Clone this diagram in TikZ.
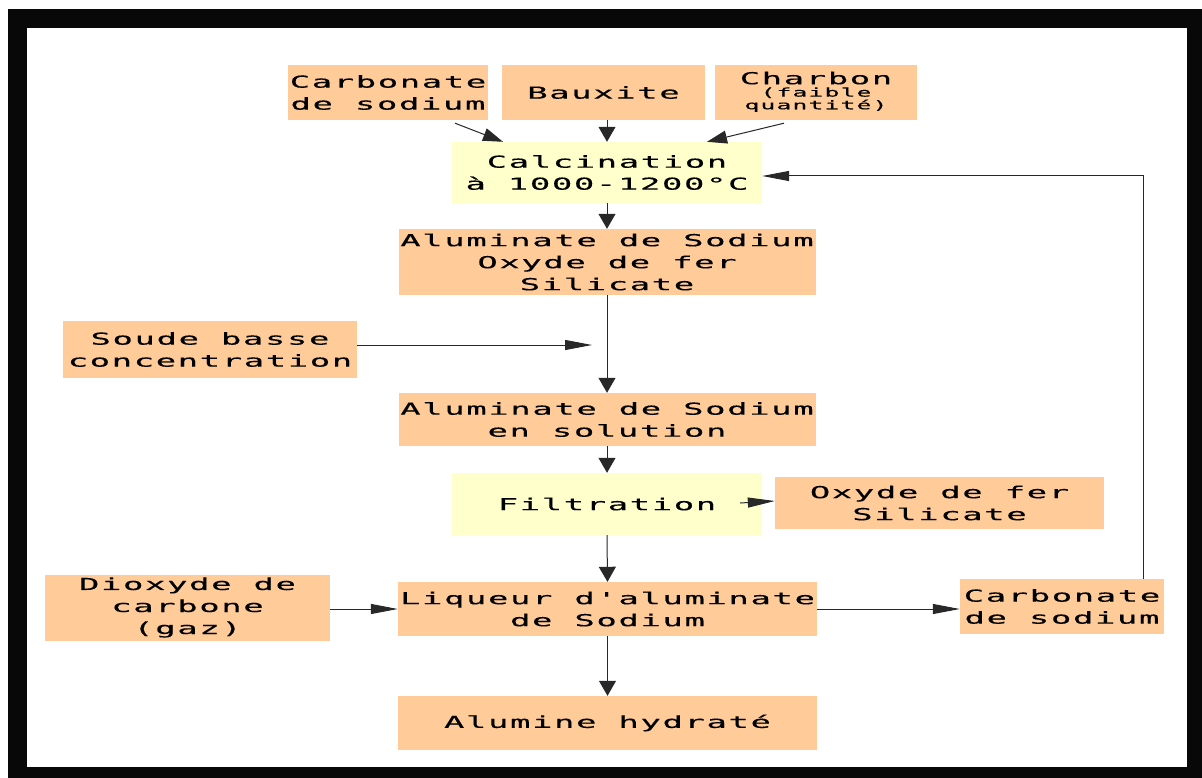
\documentclass[tikz,border=0pt]{standalone}
\usepackage{fontspec}
\usetikzlibrary{arrows.meta,calc}
\newfontfamily\boxfont[FakeStretch=2.05,FakeBold=0.3,LetterSpace=10]{DejaVu Sans Mono}
\definecolor{peach}{RGB}{255,204,153}
\definecolor{paleyellow}{RGB}{255,255,204}
\definecolor{linegray}{RGB}{40,40,40}
\newcommand{\smallnote}[1]{{\fontsize{12}{13.5}\selectfont
  \begin{tabular}{@{}c@{}}#1\end{tabular}}}
\tikzset{
  box/.style={fill=peach, inner sep=0pt, align=center,
    font=\boxfont\fontsize{16.5}{22}\selectfont},
  stage/.style={box, fill=paleyellow},
  arrv/.style={draw=linegray, line width=1pt, -{Triangle[length=15pt,width=17pt]}},
  arrh/.style={draw=linegray, line width=1pt, -{Triangle[length=27pt,width=10pt]}},
  arrd/.style={draw=linegray, line width=1pt, -{Triangle[length=20pt,width=13pt]}},
}
\begin{document}
\begin{tikzpicture}[x=1pt,y=-1pt]
  \useasboundingbox (0,0) rectangle (1202,778);
  % frame
  \fill[white] (0,0) rectangle (1202,778);
  \fill[black!97] (8,9) rectangle (1202,778);
  \fill[white] (27,28) rectangle (1187,767);

  % inputs
  \node[box, minimum width=200pt, minimum height=55pt] (carbA) at (388,92.5) {Carbonate\\de sodium};
  \node[box, minimum width=203pt, minimum height=55pt] (baux) at (603.5,92.5) {Bauxite};
  \node[box, minimum width=202pt, minimum height=55pt] (charb) at (816,92.5)
    {Charbon\\[-3pt]\smallnote{(faible\\[-1pt]quantité)}};

  % main chain
  \node[stage, minimum width=310pt, minimum height=61pt] (calc) at (607,172.5) {Calcination\\à 1000-1200°C};
  \node[box, minimum width=417pt, minimum height=66pt] (alu1) at (607,262) {Aluminate de Sodium\\Oxyde de fer\\Silicate};
  \node[box, minimum width=294pt, minimum height=57pt] (soude) at (210,349.5) {Soude basse\\concentration};
  \node[box, minimum width=417pt, minimum height=53pt] (alu2) at (607,419.5) {Aluminate de Sodium\\en solution};
  \node[stage, minimum width=310pt, minimum height=62pt] (filt) at (607,504) {Filtration};
  \node[box, minimum width=329pt, minimum height=52pt] (oxy) at (939.5,503) {Oxyde de fer\\Silicate};
  \node[box, minimum width=285pt, minimum height=66pt] (diox) at (187.5,607.5) {Dioxyde de\\carbone\\(gaz)};
  \node[box, minimum width=419pt, minimum height=54pt] (liq) at (607.5,609) {Liqueur d'aluminate\\de Sodium};
  \node[box, minimum width=204pt, minimum height=55pt] (carbB) at (1062,606.5) {Carbonate\\de sodium};
  \node[box, minimum width=419pt, minimum height=54pt] (alum) at (607.5,723) {Alumine hydraté};

  \coordinate (soudeEnd) at (592,345);

  % connectors
  \draw[arrd] ([xshift=67pt,yshift=-3pt]carbA.south) -- ([xshift=-104pt]calc.north);
  \draw[arrv] (calc.north |- baux.south) -- (calc.north);
  \draw[arrd] ([xshift=-32pt,yshift=-3pt]charb.south) -- ([xshift=100pt]calc.north);
  \draw[arrv] (calc.south) -- (alu1.north);
  \draw[arrv] (alu1.south) -- (alu2.north);
  \draw[arrh] (soude.east |- soudeEnd) -- (soudeEnd);
  \draw[arrv] (alu2.south) -- (filt.north);
  \draw[arrh] ([xshift=-22pt,yshift=1pt]filt.east) -- ([yshift=2pt]oxy.west);
  \draw[arrv] (filt.south) -- (liq.north);
  \draw[arrh] (diox.east |- liq.west) -- (liq.west);
  \draw[arrh] (liq.east) -- (carbB.west |- liq.east);
  \draw[arrv] (liq.south) -- (alum.north);
  \draw[arrh] ([xshift=81pt]carbB.north) |- ([yshift=-3.5pt]calc.east);
\end{tikzpicture}
\end{document}
